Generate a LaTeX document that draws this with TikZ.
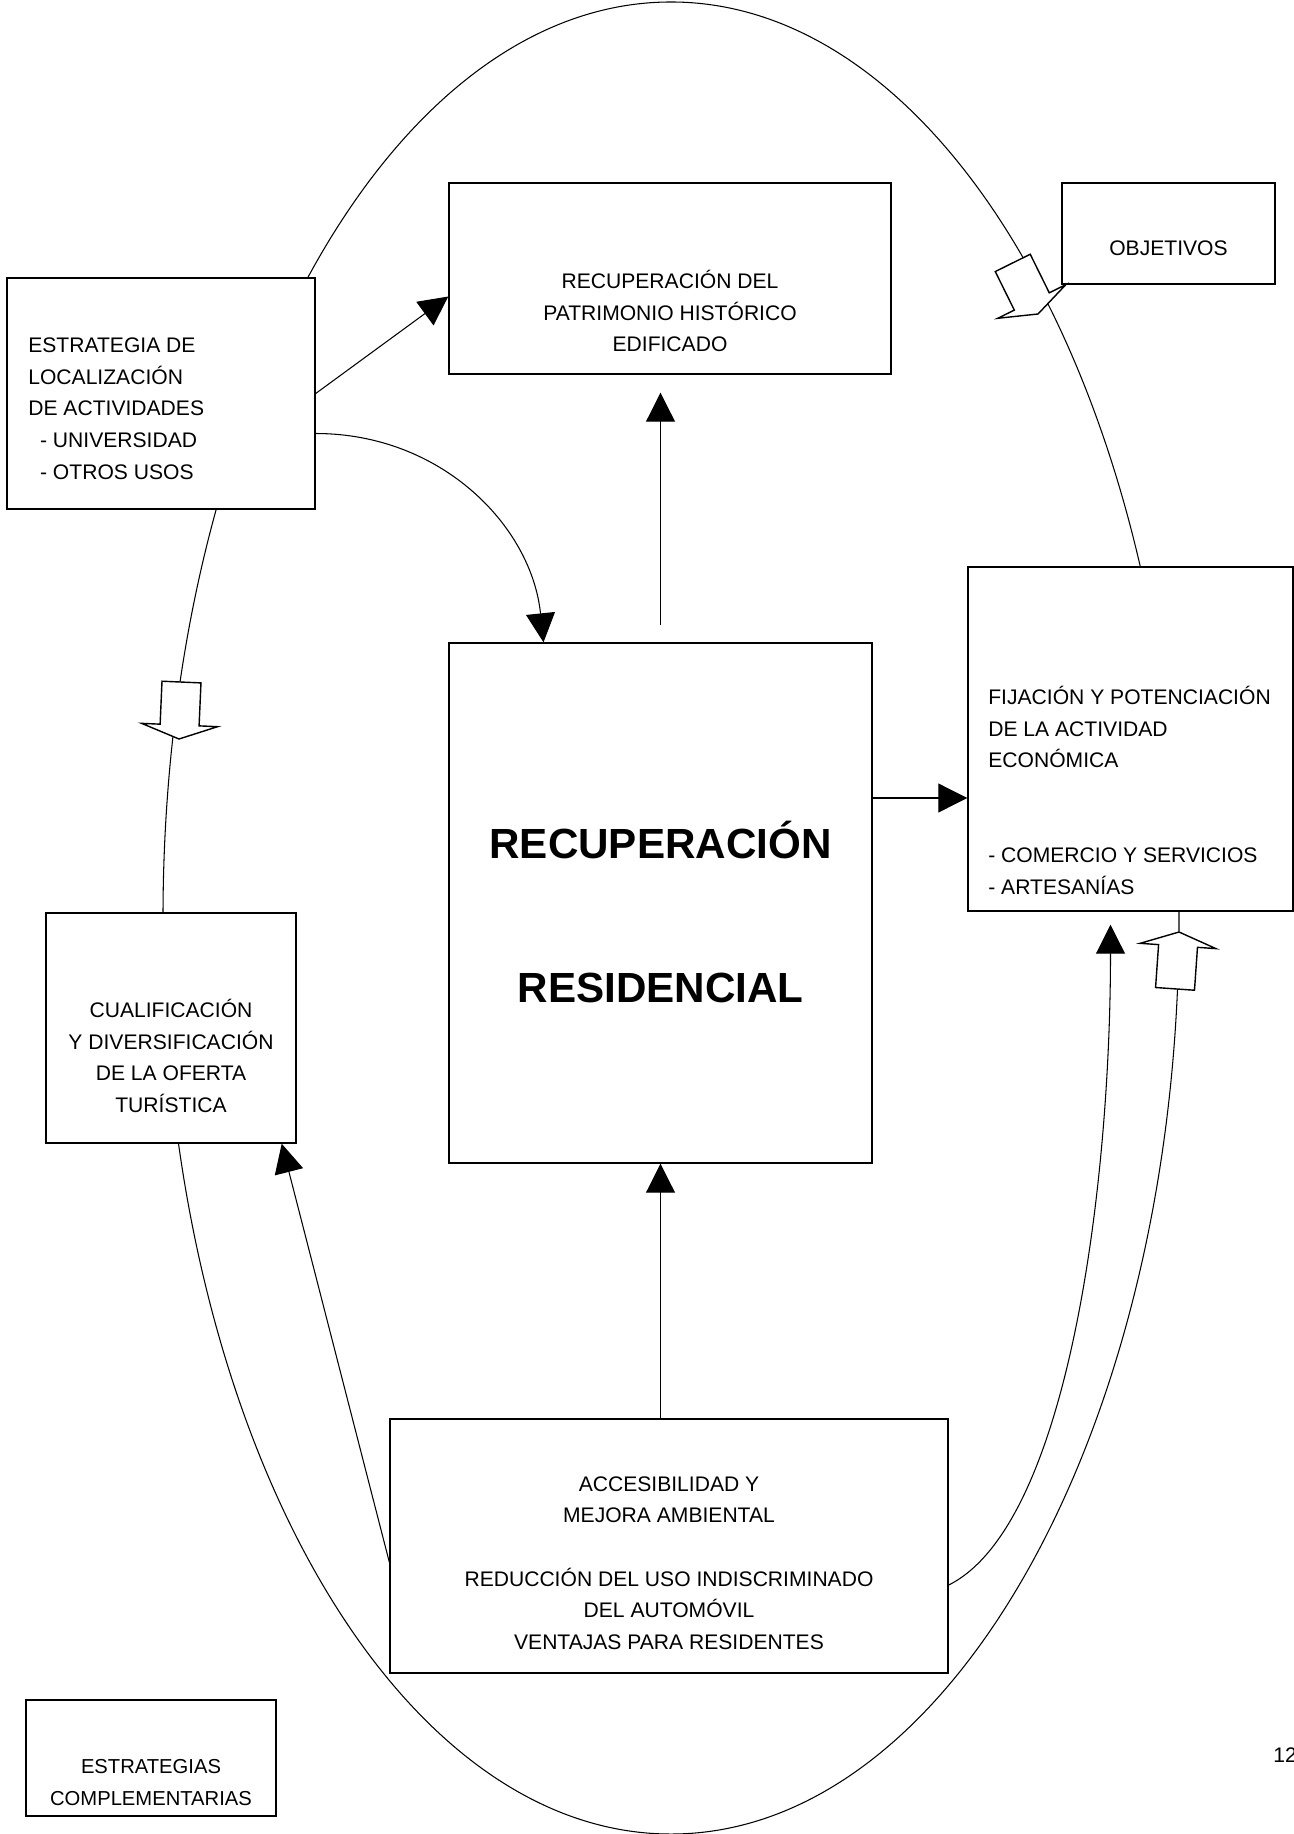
\documentclass[tikz,border=0pt]{standalone}
\usepackage{fontspec}
\setmainfont{Liberation Sans}
\usetikzlibrary{arrows.meta,calc}

\begin{document}
\begin{tikzpicture}[x=0.2mm, y=-0.2mm,
        caja/.style={draw, fill=white, line width=0.8pt, inner sep=0pt},
        texto/.style={inner sep=0pt, font=\fontsize{12}{18}\selectfont},
        flecha/.style={line width=0.6pt, -{Triangle[length=5.8mm, width=5.8mm]}},
        hueca/.style={draw, fill=white, line width=0.8pt}]
        \useasboundingbox (0,0) rectangle (1294,1834);

        % Big loop behind the boxes
        \draw[line width=0.6pt] (671,918) ellipse [x radius=101.6mm, y radius=183.2mm];

        % Objectives
        \node[caja, minimum width=42.6mm, minimum height=20.2mm] (obj) at (1168.5,233.5) {};
        \node[texto] (objtxt) at (1168.5,248) {OBJETIVOS};

        % Heritage
        \node[caja, minimum width=88.4mm, minimum height=38.2mm] (patr) at (670,278.5) {};
        \node[texto, align=center] (patrtxt) at (670,311) {RECUPERACIÓN DEL\\PATRIMONIO HISTÓRICO\\EDIFICADO};

        % Location strategy
        \node[caja, minimum width=61.6mm, minimum height=46.2mm] (estr) at (161,393.5) {};
        \node[texto, anchor=west, align=left] (estrtxt) at (28,408.5) {ESTRATEGIA DE\\LOCALIZACIÓN\\DE ACTIVIDADES\\\hspace*{6.7pt}- UNIVERSIDAD\\\hspace*{6.7pt}- OTROS USOS};

        % Residential recovery
        \node[caja, minimum width=84.6mm, minimum height=104mm] (resid) at (660.5,903) {};
        \node[inner sep=0pt, align=center, font=\fontsize{24}{82.5}\selectfont\bfseries] (residtxt) at (660.5,912) {RECUPERACIÓN\\RESIDENCIAL};

        % Economic activity
        \node[caja, minimum width=65mm, minimum height=68.8mm] (fij) at (1130.5,739) {};
        \node[texto, anchor=west, align=left] (fijtxt) at (988,790.5) {FIJACIÓN Y POTENCIACIÓN\\DE LA ACTIVIDAD\\ECONÓMICA\\[36pt]- COMERCIO Y SERVICIOS\\- ARTESANÍAS};

        % Tourism
        \node[caja, minimum width=50mm, minimum height=46mm] (cual) at (171,1028) {};
        \node[texto, align=center] (cualtxt) at (171,1056) {CUALIFICACIÓN\\Y DIVERSIFICACIÓN\\DE LA OFERTA\\TURÍSTICA};

        % Accessibility
        \node[caja, minimum width=111.6mm, minimum height=50.8mm] (acc) at (669,1546) {};
        \node[texto, align=center] (acctxt) at (669,1563) {ACCESIBILIDAD Y\\MEJORA AMBIENTAL\\[18pt]REDUCCIÓN DEL USO INDISCRIMINADO\\DEL AUTOMÓVIL\\VENTAJAS PARA RESIDENTES};

        % Legend
        \node[caja, minimum width=50mm, minimum height=23.2mm] (comp) at (151,1758) {};
        \node[texto, align=center, font=\fontsize{11.5}{18}\selectfont] (comptxt) at (151,1782.5) {ESTRATEGIAS\\COMPLEMENTARIAS};

        \node[texto, anchor=west] (pag) at (1273,1755) {12};

        % Hollow arrows on the loop
        \foreach \tx/\ty/\ang in {179/739/-2.5, 1179/932/176, 1038/314/26.3}
            \draw[hueca, shift={(\tx,\ty)}, rotate=\ang] (0,0) -- (38,-14) -- (19.5,-14) -- (19.5,-57)
                -- (-19.5,-57) -- (-19.5,-14) -- (-38,-14) -- cycle;

        % Arrows
        \draw[flecha] (estr.east) -- ($(patr.west)+(0,18)$);
        \draw[flecha] ($(estr.east)+(0,40)$) .. controls +(126,0) and +(-12,-116) .. ($(resid.north)+(-117,0)$);
        \draw[flecha] ($(resid.north)+(0,-17)$) -- ($(resid.north |- patr.south)+(0,18)$);
        \draw[flecha] ($(resid.east)+(0,-105)$) coordinate (r1) -- (r1 -| fij.west);
        \draw[flecha] (resid.south |- acc.north) -- (resid.south);
        \draw[flecha] ($(acc.west)+(0,16)$) -- ($(cual.south east)+(-15,0)$);
        \draw[flecha] ($(acc.east)+(0,39)$) .. controls +(120,-60) and +(0,260) .. ($(fij.south)+(-20,13)$);
\end{tikzpicture}
\end{document}
